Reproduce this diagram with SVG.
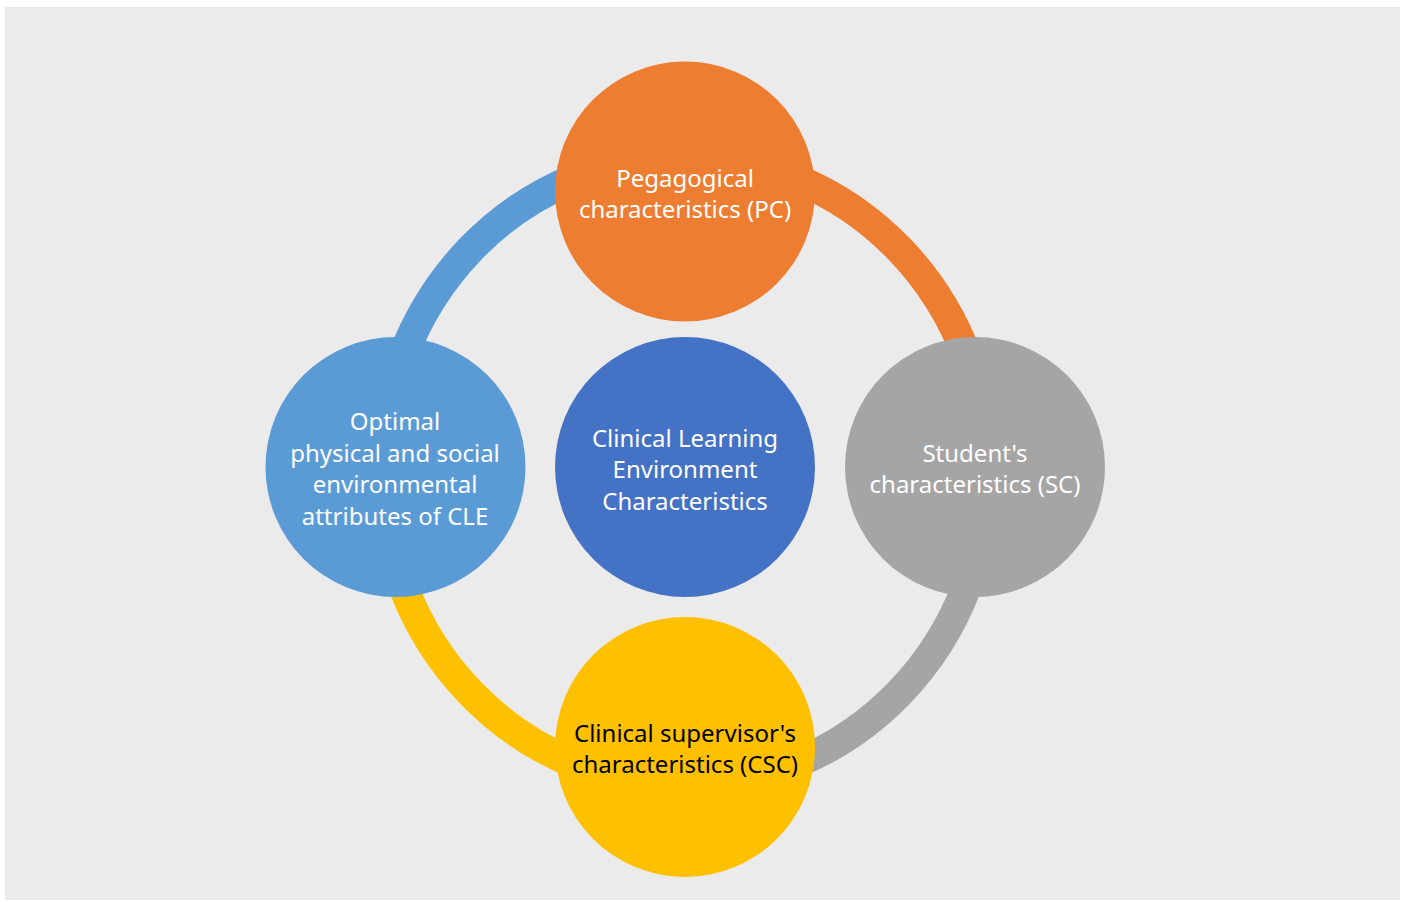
<svg xmlns="http://www.w3.org/2000/svg" width="1405" height="902" viewBox="0 0 1405 902">
<style>
.arc{fill:none;stroke-width:30}
.t{font-family:"Noto Sans","Open Sans",sans-serif;font-size:24px;text-anchor:middle;fill:#ffffff}
.dark{fill:#000000}
</style>
<rect x="0" y="0" width="1405" height="902" fill="#ffffff"/>
<rect x="5" y="7" width="1395" height="893" fill="#EBEBEB"/>
<g id="connectors">
<path class="arc" stroke="#5B9BD5" d="M 382 471 A 303 314 0 0 1 685 157"/>
<path class="arc" stroke="#ED7D31" d="M 685 157 A 303 314 0 0 1 988 471"/>
<path class="arc" stroke="#A5A5A5" d="M 988 471 A 303 314 0 0 1 685 785"/>
<path class="arc" stroke="#FFC000" d="M 685 785 A 303 314 0 0 1 382 471"/>
</g>
<g id="node-pc">
<circle cx="685" cy="191.5" r="130" fill="#ED7D31"/>
<text class="t" x="685" y="187">Pegagogical</text>
<text class="t" x="685" y="218">characteristics (PC)</text>
</g>
<g id="node-cle-attributes">
<circle cx="395.5" cy="467" r="130" fill="#5B9BD5"/>
<text class="t" x="395" y="430">Optimal</text>
<text class="t" x="395" y="461.5">physical and social</text>
<text class="t" x="395" y="493">environmental</text>
<text class="t" x="395" y="524.5">attributes of CLE</text>
</g>
<g id="node-center">
<circle cx="685" cy="467" r="130" fill="#4472C4"/>
<text class="t" x="685" y="446.5">Clinical Learning</text>
<text class="t" x="685" y="478">Environment</text>
<text class="t" x="685" y="509.5">Characteristics</text>
</g>
<g id="node-sc">
<circle cx="975" cy="467" r="130" fill="#A5A5A5"/>
<text class="t" x="975" y="461.5">Student's</text>
<text class="t" x="975" y="493">characteristics (SC)</text>
</g>
<g id="node-csc">
<circle cx="685" cy="747" r="130" fill="#FFC000"/>
<text class="t dark" x="685" y="742">Clinical supervisor's</text>
<text class="t dark" x="685" y="773">characteristics (CSC)</text>
</g>
</svg>
